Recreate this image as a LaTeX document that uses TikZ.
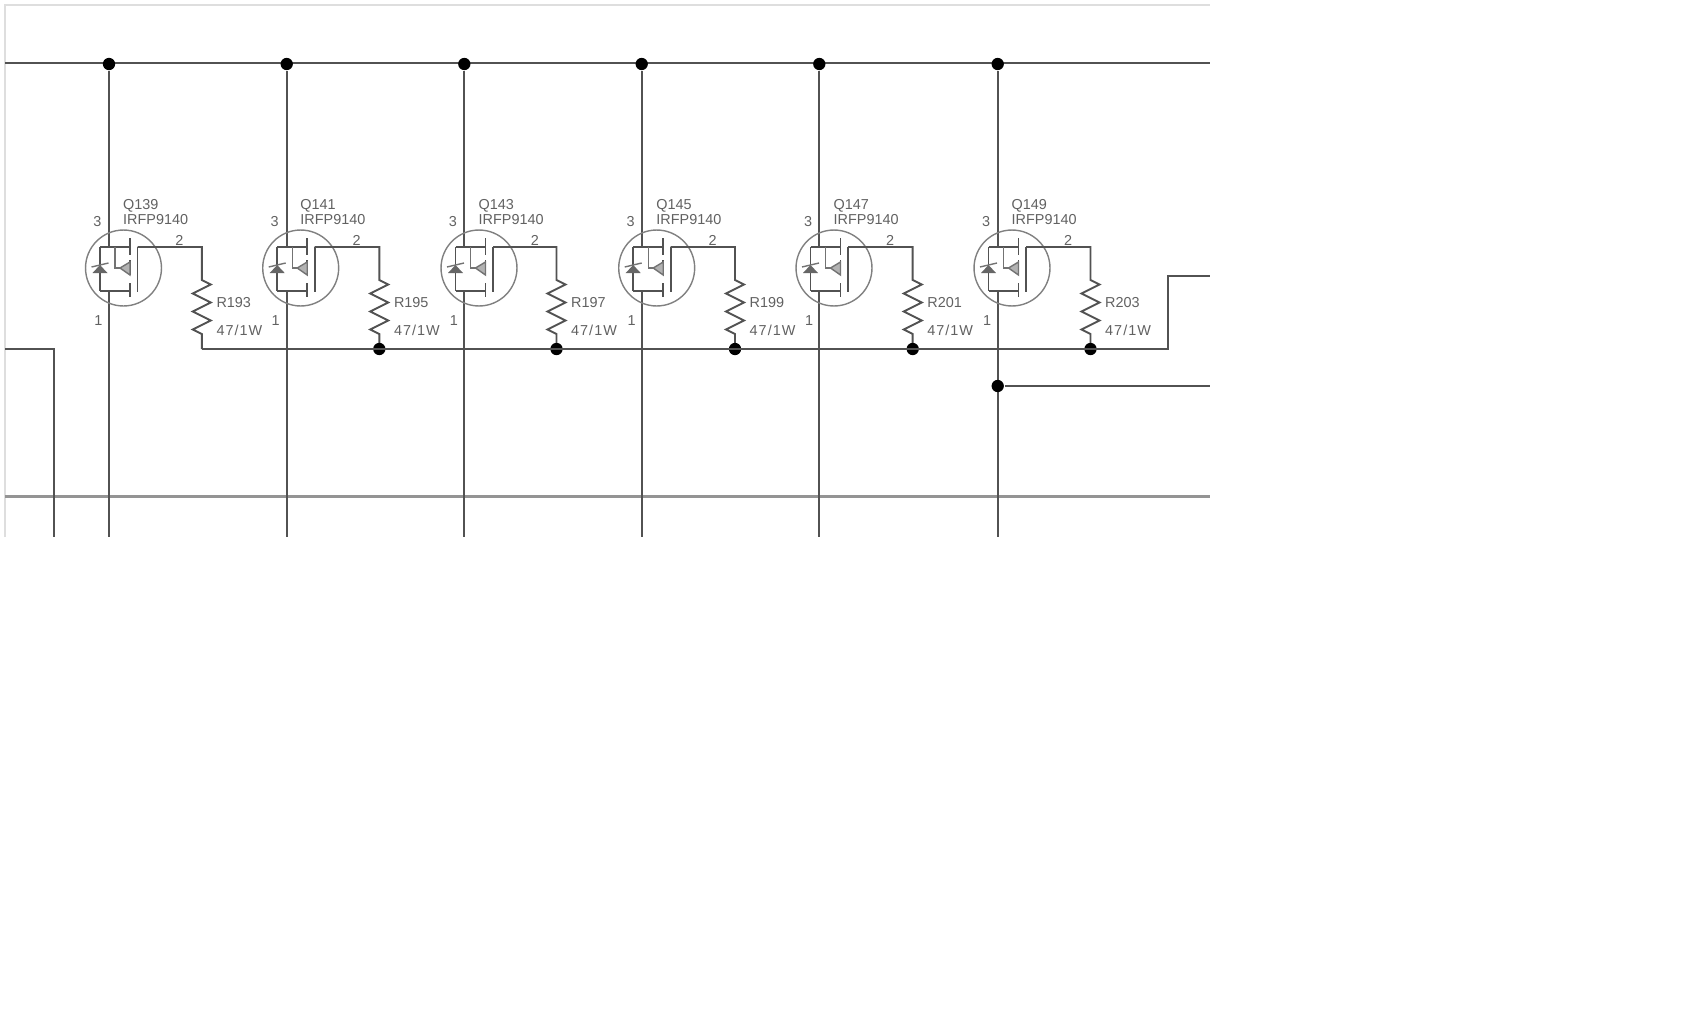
\documentclass[tikz,border=0pt]{standalone}
\usepackage{fontspec}
\setmainfont{Liberation Sans}
\usetikzlibrary{calc}
\tikzset{
  wire/.style={draw=black!68,line width=0.55pt},
  thinwire/.style={draw=black!55,line width=0.4pt},
  framewire/.style={draw=black!13,line width=0.6pt},
  rail/.style={draw=black!42,line width=0.85pt},
  junction/.style={circle,fill=black,inner sep=0pt,minimum size=3.5pt},
  qbody/.style={circle,draw=black!50,line width=0.4pt,inner sep=0pt,minimum size=21.6pt},
  lbl/.style={inner sep=0pt,anchor=west,text=black!62,font=\fontsize{4.1}{4.1}\selectfont},
  vallbl/.style={inner sep=0pt,anchor=west,text=black!62,font=\fontsize{4.1}{4.1}\selectfont\addfontfeature{LetterSpace=7}},
  pin/.style={inner sep=0pt,text=black!62,font=\fontsize{4.1}{4.1}\selectfont}
}
% one output stage: number, drain x, circle x, resistor x, labels
\newcommand{\mosstage}[6]{
  \node[junction] (top#1) at (#2,64) {};
  \coordinate (bot#1) at (#2,537);
  \coordinate (dr#1) at (#2,247);
  \coordinate (so#1) at (#2,291);
  \draw[wire] (top#1) -- (dr#1);
  \draw[wire] (so#1) -- (bot#1);
  \node[qbody] (q#1) at (#3,268) {};
  % fet inside the circle
  \begin{scope}[shift={(#3,268)}]
    \draw[wire] (-23.5,-21) -- (6.5,-21) (-23.5,23) -- (6.5,23) (-23.5,-21) -- (-23.5,23);
    \draw[wire] (6.5,-30) -- (6.5,-13) (6.5,-8) -- (6.5,7) (6.5,15) -- (6.5,29);
    \draw[wire] (14,-21) -- (14,24);
    \draw[thinwire] (-8.5,-21) -- (-8.5,0) -- (-3.5,0);
    \draw[thinwire,fill=black!30] (-3.5,0) -- (6.5,-6) -- (6.5,7) -- cycle;
    \fill[black!60] (-23.5,-3) -- (-31,5) -- (-16,5) -- cycle;
    \draw[thinwire] (-32,-1) -- (-15,-5);
  \end{scope}
  \coordinate (g#1) at ($(q#1)+(14,-21)$);
  \coordinate (rt#1) at (#4,247);
  \coordinate (rb#1) at (#4,349);
  \draw[wire] (g#1) -- (rt#1) -- (#4,280) -- ++(9,4.5) -- ++(-18,9) -- ++(18,9) -- ++(-18,9) -- ++(18,9) -- ++(-18,9) -- ++(9,4.5) -- (rb#1);
  \node[lbl] (qn#1) at ($(q#1)+(-1,-62)$) {#5};
  \node[lbl] (qt#1) at ($(q#1)+(-1,-48)$) {IRFP9140};
  \node[pin] (p3#1) at ($(q#1)+(-26,-46)$) {3};
  \node[pin] (p2#1) at ($(q#1)+(56,-28)$) {2};
  \node[pin] (p1#1) at ($(q#1)+(-25,53)$) {1};
  \node[lbl] (rn#1) at (#4+14,303) {#6};
  \node[vallbl] (rv#1) at (#4+14,330) {47/1W};
}
\begin{document}
\begin{tikzpicture}[x=0.01cm,y=-0.01cm]
  \useasboundingbox (0,0) rectangle (1700,1024);
  % frame and long rails
  \coordinate (fa) at (5,537);
  \coordinate (fb) at (5,5);
  \coordinate (fc) at (1210,5);
  \draw[framewire] (fa) -- (fb) -- (fc);
  \coordinate (busl) at (5,63);
  \coordinate (busr) at (1210,63);
  \draw[wire] (busl) -- (busr);
  \coordinate (raill) at (5,496);
  \coordinate (railr) at (1210,496);
  \draw[rail] (raill) -- (railr);

  % output stages
  \mosstage{1}{109}{123.5}{201.8}{Q139}{R193}
  \mosstage{2}{286.7}{300.7}{379.3}{Q141}{R195}
  \mosstage{3}{464.3}{479}{556.5}{Q143}{R197}
  \mosstage{4}{641.7}{656.7}{735}{Q145}{R199}
  \mosstage{5}{819.3}{834}{912.7}{Q147}{R201}
  \mosstage{6}{997.7}{1012}{1090.5}{Q149}{R203}

  % gate bus
  \node[junction] (jr2) at (rb2) {};
  \node[junction] (jr3) at (rb3) {};
  \node[junction] (jr4) at (rb4) {};
  \node[junction] (jr5) at (rb5) {};
  \node[junction] (jr6) at (rb6) {};
  \coordinate (ga) at (1168,349);
  \coordinate (gb) at (1168,276);
  \coordinate (gc) at (1210,276);
  \draw[wire] (rb1) -- (ga) -- (gb) -- (gc);

  % left stub
  \coordinate (sa) at (5,349);
  \coordinate (sb) at (54,349);
  \coordinate (sc) at (54,537);
  \draw[wire] (sa) -- (sb) -- (sc);

  % output tap
  \node[junction] (tap) at (997.7,386) {};
  \coordinate (tapr) at (1210,386);
  \draw[wire] (tap) -- (tapr);
\end{tikzpicture}
\end{document}
